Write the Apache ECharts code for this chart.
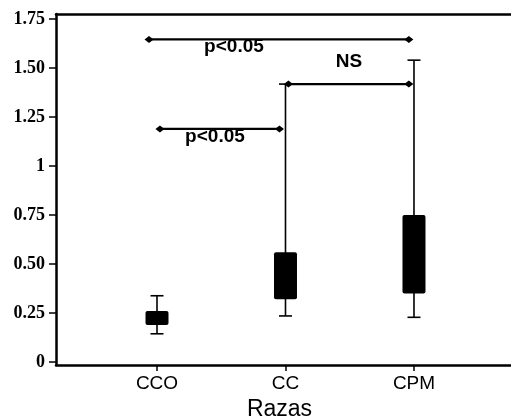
<!DOCTYPE html>
<html>
<head>
<meta charset="utf-8">
<script src="https://cdn.jsdelivr.net/npm/echarts@6/dist/echarts.min.js"></script>
<style>
html,body{margin:0;padding:0;background:#fff;}
#chart{width:511px;height:420px;}
</style>
</head>
<body>
<div id="chart"></div>
<script>
// ---- data ----
var categories = ['CCO', 'CC', 'CPM'];
var categoryPos = [1, 2, 3];
var whiskerLow = [0.144, 0.235, 0.228];
var q1 = [0.189, 0.32, 0.35];
var q3 = [0.26, 0.56, 0.75];
var whiskerHigh = [0.338, 1.418, 1.54];

var yTicks = [0, 0.25, 0.5, 0.75, 1, 1.25, 1.5, 1.75];
var yTickLabels = ['0', '0.25', '0.50', '0.75', '1', '1.25', '1.50', '1.75'];

// significance brackets
var bracketStart = [0.938, 1.023, 2.023];
var bracketEnd = [2.96, 1.953, 2.96];
var bracketLevel = [1.646, 1.189, 1.418];
var bracketText = ['p<0.05', 'p<0.05', 'NS'];
var bracketTextX = [1.599, 1.451, 2.494];
var bracketTextY = [1.607, 1.148, 1.533];

var boxData = categoryPos.map(function (x, i) {
  return [x, whiskerLow[i], q1[i], q3[i], whiskerHigh[i]];
});
var bracketData = bracketStart.map(function (s, i) {
  return [s, bracketEnd[i], bracketLevel[i], bracketTextX[i], bracketTextY[i], bracketText[i]];
});

var chart = echarts.init(document.getElementById('chart'), null, {renderer: 'canvas'});

function diamond(c) {
  var w = 4.5, h = 3.5;
  return {
    type: 'polygon',
    shape: {points: [[c[0] - w, c[1]], [c[0], c[1] - h], [c[0] + w, c[1]], [c[0], c[1] + h]]},
    style: {fill: '#000'}
  };
}

var xMin = 0.214, xMax = 3.755;

var option = {
  animation: false,
  backgroundColor: '#fff',
  grid: {left: 56, right: 0, top: 14, bottom: 55, show: false, containLabel: false, outerBoundsMode: 'none'},
  xAxis: [{
    type: 'value',
    min: xMin,
    max: xMax,
    splitLine: {show: false},
    axisLine: {show: true, onZero: false, lineStyle: {color: '#000', width: 2.5}},
    axisTick: {show: true, length: 6, customValues: categoryPos, lineStyle: {color: '#000', width: 1.5}},
    axisLabel: {
      customValues: categoryPos,
      margin: 9,
      color: '#000',
      fontFamily: 'Liberation Sans',
      fontSize: 19,
      formatter: function (v) {
        var i = categoryPos.indexOf(Math.round(v));
        return i >= 0 ? categories[i] : '';
      }
    },
    name: 'Razas',
    nameLocation: 'middle',
    nameGap: 31,
    nameTextStyle: {color: '#000', fontFamily: 'Liberation Sans', fontSize: 23, padding: [0, 8, 0, 0]}
  }, {
    type: 'value',
    position: 'top',
    min: xMin,
    max: xMax,
    splitLine: {show: false},
    axisLine: {show: true, onZero: false, lineStyle: {color: '#000', width: 2.5}},
    axisTick: {show: false},
    axisLabel: {show: false}
  }],
  yAxis: {
    type: 'value',
    min: -0.0153,
    max: 1.7755,
    splitLine: {show: false},
    axisLine: {show: true, onZero: false, lineStyle: {color: '#000', width: 2.5}},
    axisTick: {show: true, length: 7, customValues: yTicks, lineStyle: {color: '#000', width: 1.5}},
    axisLabel: {
      customValues: yTicks,
      margin: 11,
      color: '#000',
      fontFamily: 'Liberation Serif',
      fontWeight: 'bold',
      fontSize: 18,
      formatter: function (v) {
        for (var i = 0; i < yTicks.length; i++) {
          if (Math.abs(yTicks[i] - v) < 1e-6) return yTickLabels[i];
        }
        return '';
      }
    }
  },
  series: [
    {
      type: 'custom',
      data: boxData,
      clip: false,
      renderItem: function (params, api) {
        var x = api.value(0);
        var lo = api.coord([x, api.value(1)]);
        var b1 = api.coord([x, api.value(2)]);
        var b3 = api.coord([x, api.value(3)]);
        var hi = api.coord([x, api.value(4)]);
        var bw = 23, cw = 13;
        var ls = {stroke: '#000', lineWidth: 1.6};
        return {
          type: 'group',
          children: [
            {type: 'line', shape: {x1: lo[0], y1: lo[1], x2: hi[0], y2: hi[1]}, style: ls},
            {type: 'line', shape: {x1: lo[0] - cw / 2, y1: lo[1], x2: lo[0] + cw / 2, y2: lo[1]}, style: ls},
            {type: 'line', shape: {x1: hi[0] - cw / 2, y1: hi[1], x2: hi[0] + cw / 2, y2: hi[1]}, style: ls},
            {type: 'rect', shape: {x: b3[0] - bw / 2, y: b3[1], width: bw, height: b1[1] - b3[1], r: 2}, style: {fill: '#000'}}
          ]
        };
      }
    },
    {
      type: 'custom',
      data: bracketData,
      clip: false,
      renderItem: function (params, api) {
        var d = bracketData[params.dataIndex];
        var a = api.coord([d[0], d[2]]);
        var b = api.coord([d[1], d[2]]);
        var t = api.coord([d[3], d[4]]);
        return {
          type: 'group',
          children: [
            {type: 'line', shape: {x1: a[0], y1: a[1], x2: b[0], y2: b[1]}, style: {stroke: '#000', lineWidth: 2.2}},
            diamond(a),
            diamond(b),
            {type: 'text', x: t[0], y: t[1], style: {
              text: d[5], fill: '#000', fontFamily: 'Liberation Sans', fontWeight: 'bold',
              fontSize: 19, align: 'center', verticalAlign: 'middle'
            }}
          ]
        };
      }
    }
  ]
};
chart.setOption(option);
</script>
</body>
</html>
